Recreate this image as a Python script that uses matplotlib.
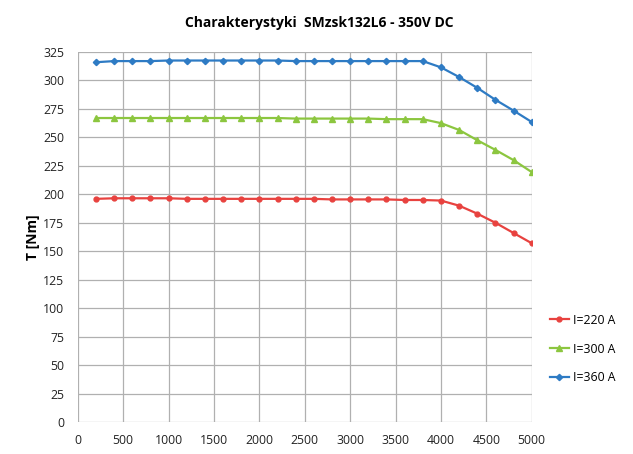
import numpy as np
import matplotlib
matplotlib.use("Agg")
import matplotlib.pyplot as plt

plt.rcParams['font.family'] = ['Open Sans', 'DejaVu Sans']

speed = [200, 400, 600, 800, 1000, 1200, 1400, 1600, 1800, 2000, 2200, 2400,
         2600, 2800, 3000, 3200, 3400, 3600, 3800, 4000, 4200, 4400, 4600, 4800, 5000]

t_220 = [196, 196.5, 196.5, 196.5, 196.5, 196, 196, 196, 196, 196, 196, 196,
         196, 195.5, 195.5, 195.5, 195.5, 195, 195, 194.5, 190, 183, 175, 166, 157]
t_300 = [267, 267, 267, 267, 267, 267, 267, 267, 267, 267, 267, 266.5,
         266.5, 266.5, 266.5, 266.5, 266, 266, 266, 262.5, 256.5, 247.5, 239, 230, 219.5]
t_360 = [316, 317, 317, 317, 317.5, 317.5, 317.5, 317.5, 317.5, 317.5, 317.5, 317,
         317, 317, 317, 317, 317, 317, 317, 311.5, 303, 293.5, 283, 273.5, 263.5]

labels = ['I=220 A', 'I=300 A', 'I=360 A']

fig = plt.figure(figsize=(6.33, 4.54), dpi=100)
ax = fig.add_axes([0.123, 0.0705, 0.717, 0.815])

ax.plot(speed, t_220, color='#e8423f', marker='o', markersize=3.5, lw=1.6, label=labels[0])
ax.plot(speed, t_300, color='#8cc63f', marker='^', markersize=4.5, lw=1.6, label=labels[1])
ax.plot(speed, t_360, color='#2e7bc4', marker='D', markersize=3.2, lw=1.6, label=labels[2])

ax.set_xlim(0, 5000)
ax.set_ylim(0, 325)
ax.set_xticks(np.arange(0, 5001, 500))
ax.set_yticks(np.arange(0, 326, 25))
ax.grid(True, color='#b0b0b0', lw=0.9)
ax.set_axisbelow(True)
for s in ax.spines.values():
    s.set_visible(False)
ax.tick_params(length=0, labelsize=8.8, colors='#222222')
ax.tick_params(axis='x', pad=9)
ax.tick_params(axis='y', pad=10)

ax.set_ylabel('T [Nm]', fontsize=10, fontweight='bold', labelpad=2)
fig.suptitle('Charakterystyki  SMzsk132L6 - 350V DC', fontsize=10, fontweight='bold',
             x=0.505, y=0.965)

ax.legend(loc='center left', bbox_to_anchor=(1.015, 0.197), frameon=False,
          fontsize=8.8, handlelength=1.6, handletextpad=0.3, labelspacing=1.3)

fig.savefig('out.png', dpi=100)
